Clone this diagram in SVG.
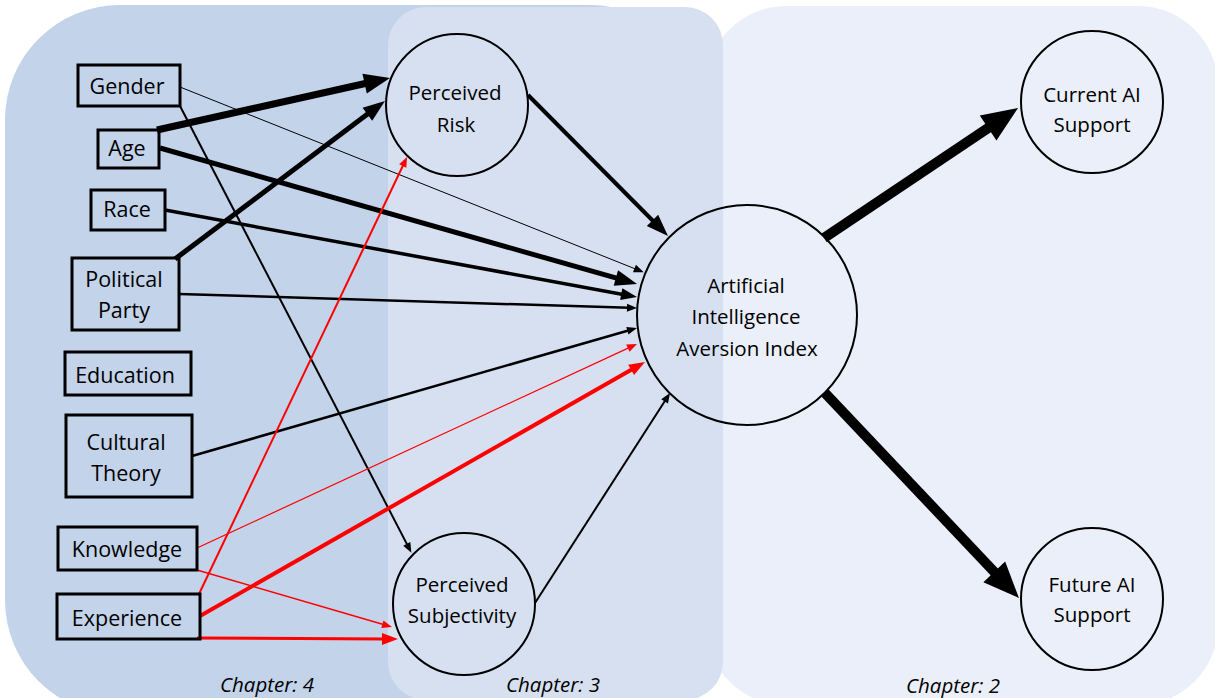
<svg xmlns="http://www.w3.org/2000/svg" width="1215" height="698" viewBox="0 0 1215 698">
<style>
.box{fill:none;stroke:#000;stroke-width:3}
.circ{fill:none;stroke:#000;stroke-width:2}
.t{font-family:"Open Sans","Noto Sans","Liberation Sans",sans-serif;font-size:21.5px;fill:#000;text-anchor:middle}
.ct{font-family:"Open Sans","Noto Sans","Liberation Sans",sans-serif;font-size:20.5px;fill:#000;text-anchor:middle}
.ch{font-family:"Open Sans","Noto Sans","Liberation Sans",sans-serif;font-size:20.5px;font-style:italic;fill:#000;text-anchor:middle}
.k{stroke:#000;fill:none}
.r{stroke:#f00;fill:none}
</style>
<defs>
<marker id="aS" markerUnits="userSpaceOnUse" orient="auto" markerWidth="10" markerHeight="8" refX="2" refY="4" overflow="visible"><path d="M0,0 L10,4 L0,8 Z" fill="#000"/></marker>
<marker id="aM" markerUnits="userSpaceOnUse" orient="auto" markerWidth="16" markerHeight="12" refX="3.2" refY="6" overflow="visible"><path d="M0,0 L16,6 L0,12 Z" fill="#000"/></marker>
<marker id="aL" markerUnits="userSpaceOnUse" orient="auto" markerWidth="22" markerHeight="16" refX="4.4" refY="8" overflow="visible"><path d="M0,0 L22,8 L0,16 Z" fill="#000"/></marker>
<marker id="aXL" markerUnits="userSpaceOnUse" orient="auto" markerWidth="26" markerHeight="20" refX="5.2" refY="10" overflow="visible"><path d="M0,0 L26,10 L0,20 Z" fill="#000"/></marker>
<marker id="aXXL" markerUnits="userSpaceOnUse" orient="auto" markerWidth="36" markerHeight="30" refX="7.2" refY="15" overflow="visible"><path d="M0,0 L36,15 L0,30 Z" fill="#000"/></marker>
<marker id="rS" markerUnits="userSpaceOnUse" orient="auto" markerWidth="10" markerHeight="8" refX="2" refY="4" overflow="visible"><path d="M0,0 L10,4 L0,8 Z" fill="#f00"/></marker>
<marker id="rM" markerUnits="userSpaceOnUse" orient="auto" markerWidth="16" markerHeight="12" refX="3.2" refY="6" overflow="visible"><path d="M0,0 L16,6 L0,12 Z" fill="#f00"/></marker>
</defs>
<rect width="1215" height="698" fill="#fff"/>
<g id="panels">
<rect id="chapter4-panel" x="5" y="5" width="700" height="710" rx="115" ry="115" fill="#c3d3ea"/>
<rect id="chapter2-panel" x="706" y="6" width="512" height="699" rx="80" ry="80" fill="#eaeff9"/>
<rect id="chapter3-panel" x="388" y="7" width="335" height="693" rx="38" ry="38" fill="#d7e0f1"/>
</g>
<g id="connectors">
<line class="k" x1="180" y1="87" x2="636.3" y2="269.3" stroke-width="1" marker-end="url(#aS)"/>
<line class="k" x1="180" y1="106" x2="407.7" y2="545.6" stroke-width="2" marker-end="url(#aS)"/>
<line class="k" x1="157" y1="130" x2="369.7" y2="82.5" stroke-width="7" marker-end="url(#aXL)"/>
<line class="k" x1="160" y1="148" x2="620.1" y2="279.2" stroke-width="5" marker-end="url(#aL)"/>
<line class="k" x1="165" y1="210" x2="624.4" y2="294.7" stroke-width="3.5" marker-end="url(#aM)"/>
<line class="k" x1="175" y1="259" x2="370.9" y2="111.6" stroke-width="5" marker-end="url(#aL)"/>
<line class="k" x1="179" y1="294" x2="629" y2="307.8" stroke-width="2.5" marker-end="url(#aS)"/>
<line class="k" x1="192" y1="456" x2="629.3" y2="330.2" stroke-width="2.5" marker-end="url(#aS)"/>
<line class="r" x1="197" y1="548" x2="629.7" y2="347.4" stroke-width="1.2" marker-end="url(#rS)"/>
<line class="r" x1="197" y1="570" x2="384.3" y2="624.8" stroke-width="1.5" marker-end="url(#rS)"/>
<line class="r" x1="199" y1="594" x2="403.6" y2="164.2" stroke-width="2" marker-end="url(#rS)"/>
<line class="r" x1="200" y1="616" x2="633.9" y2="368.3" stroke-width="4" marker-end="url(#rM)"/>
<line class="r" x1="197" y1="638" x2="385.2" y2="638.9" stroke-width="3" marker-end="url(#rM)"/>
<line class="k" x1="528" y1="95" x2="655.6" y2="223.5" stroke-width="4" marker-end="url(#aL)"/>
<line class="k" x1="535" y1="603" x2="665.7" y2="399.7" stroke-width="2" marker-end="url(#aS)"/>
<line class="k" x1="824" y1="238" x2="994.1" y2="124" stroke-width="10" marker-end="url(#aXXL)"/>
<line class="k" x1="825" y1="393" x2="999.2" y2="577.1" stroke-width="10" marker-end="url(#aXXL)"/>
</g>
<g id="gender"><rect class="box" x="78" y="65" width="102" height="41"/><text class="t" x="127" y="94">Gender</text></g>
<g id="age"><rect class="box" x="98" y="130" width="61" height="38"/><text class="t" x="127" y="156">Age</text></g>
<g id="race"><rect class="box" x="91" y="190" width="74" height="40"/><text class="t" x="127" y="217">Race</text></g>
<g id="political-party"><rect class="box" x="72" y="258" width="107" height="72"/><text class="t" x="124" y="287">Political</text><text class="t" x="124" y="318">Party</text></g>
<g id="education"><rect class="box" x="65" y="352" width="126" height="43"/><text class="t" x="125" y="383">Education</text></g>
<g id="cultural-theory"><rect class="box" x="66" y="415" width="126" height="82"/><text class="t" x="126" y="450">Cultural</text><text class="t" x="126" y="481">Theory</text></g>
<g id="knowledge"><rect class="box" x="58" y="527" width="139" height="43"/><text class="t" x="127" y="557">Knowledge</text></g>
<g id="experience"><rect class="box" x="57" y="594" width="143" height="45"/><text class="t" x="127" y="626">Experience</text></g>
<g id="perceived-risk"><circle class="circ" cx="457" cy="105" r="71"/><text class="ct" x="455" y="100">Perceived</text><text class="ct" x="456" y="132">Risk</text></g>
<g id="perceived-subjectivity"><circle class="circ" cx="464" cy="604" r="71"/><text class="ct" x="462" y="592">Perceived</text><text class="ct" x="462" y="623">Subjectivity</text></g>
<g id="ai-aversion-index"><circle class="circ" cx="747" cy="315" r="110"/><text class="ct" x="746" y="293">Artificial</text><text class="ct" x="746" y="324">Intelligence</text><text class="ct" x="747" y="356">Aversion Index</text></g>
<g id="current-ai-support"><circle class="circ" cx="1092" cy="102" r="71"/><text class="ct" x="1092" y="102">Current AI</text><text class="ct" x="1092" y="132">Support</text></g>
<g id="future-ai-support"><circle class="circ" cx="1092" cy="599" r="71"/><text class="ct" x="1092" y="592">Future AI</text><text class="ct" x="1092" y="622">Support</text></g>
<g id="chapter-labels">
<text class="ch" x="267" y="692">Chapter: 4</text>
<text class="ch" x="553" y="692">Chapter: 3</text>
<text class="ch" x="953" y="693">Chapter: 2</text>
</g>
</svg>
